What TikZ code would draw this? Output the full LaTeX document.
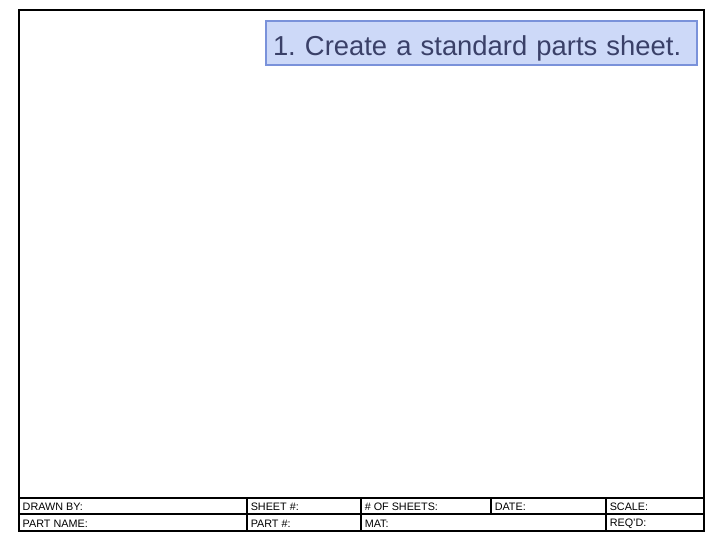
\documentclass[tikz,border=0pt]{standalone}
\usepackage{fontspec}
\setmainfont{Liberation Sans}
\usetikzlibrary{positioning}
\definecolor{notefill}{RGB}{205,217,248}
\definecolor{noteline}{RGB}{122,146,218}
\definecolor{notetext}{RGB}{58,64,104}
\frenchspacing
\tikzset{
  celltext/.style={anchor=west, inner sep=0pt, font=\fontsize{10.8}{12}\selectfont},
  note/.style={draw=noteline, fill=notefill, text=notetext, line width=2pt,
    anchor=north west, minimum width=431pt, minimum height=44pt,
    inner xsep=7pt, inner ysep=4pt, text height=31pt, text depth=5pt,
    text width=417pt, align=left, font=\fontsize{27.4}{30}\selectfont}
}
\begin{document}
\begin{tikzpicture}[x=1pt, y=-1pt, line width=1.5pt]
  \useasboundingbox (0,0) rectangle (720,540);
  % sheet frame
  \coordinate (tl) at (19,10);
  \coordinate (br) at (704,531);
  \draw (tl) rectangle (br);
  % title block
  \coordinate (rowA) at (19,498);
  \coordinate (rowB) at (19,514);
  \draw (rowA) -- (rowA -| br);
  \draw (rowB) -- (rowB -| br);
  \foreach \x in {247,361,606} \draw (\x,498) -- (\x,531);
  \draw (491,498) -- (491,514);
  \node [celltext] (drawnby) at (22,507) {DRAWN BY:};
  \node [celltext] (sheetno) at (250,507) {SHEET \#:};
  \node [celltext] (sheets) at (364,507) {\# OF SHEETS:};
  \node [celltext] (date) at (494,507) {DATE:};
  \node [celltext] (scale) at (609,507) {SCALE:};
  \node [celltext] (partname) at (22,523.5) {PART NAME:};
  \node [celltext] (partno) at (250,523.5) {PART \#:};
  \node [celltext] (mat) at (364,523.5) {MAT:};
  \node [celltext] (reqd) at (609,523.5) {REQ'D:};
  % step note
  \node [note] (step) at (265,20) {1. Create a standard parts sheet.};
\end{tikzpicture}
\end{document}
